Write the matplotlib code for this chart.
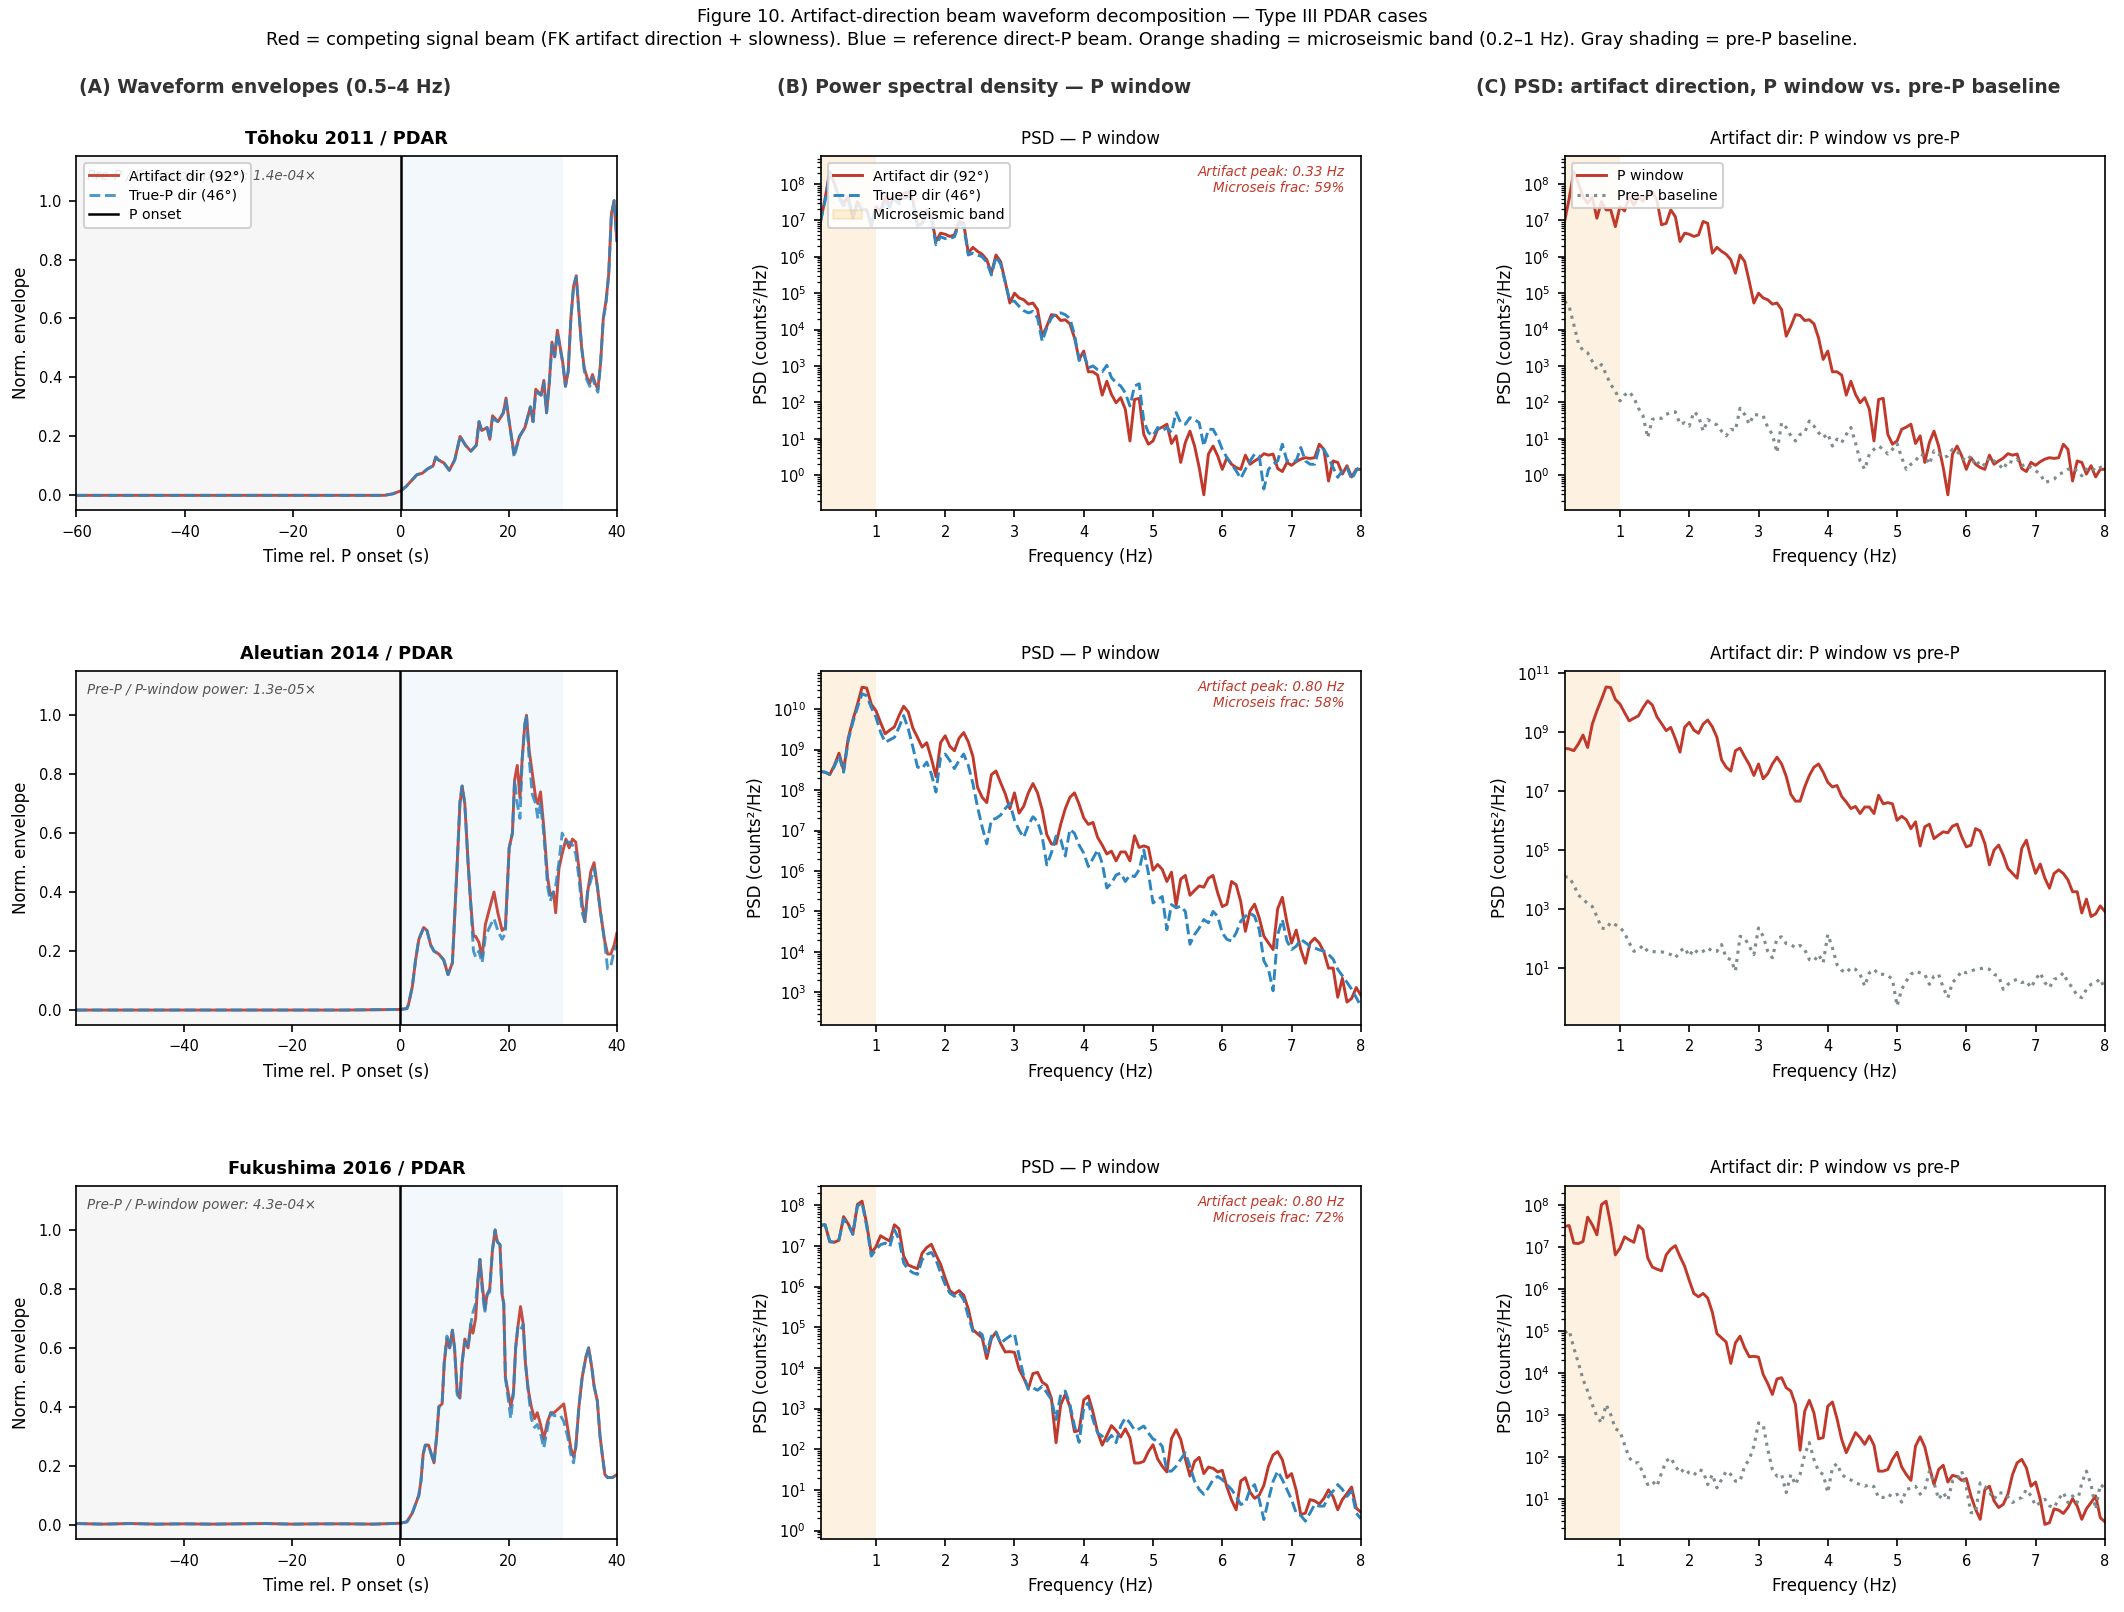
import numpy as np
import matplotlib
matplotlib.use("Agg")
import matplotlib.pyplot as plt
from matplotlib.patches import Patch

# ---------------- DATA ----------------
events = ["Tōhoku 2011 / PDAR", "Aleutian 2014 / PDAR", "Fukushima 2016 / PDAR"]
power_ratio_labels = ["1.4e-04", "1.3e-05", "4.3e-04"]
peak_labels = ["0.33", "0.80", "0.80"]
microseis_frac = ["59", "58", "72"]
artifact_az = 92
truep_az = 46

# Envelopes: time (s rel. P onset), artifact (red) and true-P (blue)
t_tohoku = [-60, -50, -40, -30, -20, -10, -3, -1.5, 0, 1, 2, 3, 4, 5, 6, 6.5, 7, 8,
            9, 10, 11, 12, 13, 14, 14.5, 15, 16, 16.5, 17, 18, 19, 19.5, 20,
            21, 22, 23, 24, 24.5, 25, 26, 26.5, 27, 27.5, 28, 28.5, 29, 30, 30.5,
            31, 31.5, 32, 32.5, 33, 33.5, 34, 34.5, 35, 35.5, 36, 36.5, 37, 37.5, 38,
            38.5, 39, 39.5, 40]
env_art_tohoku = [0, 0, 0, 0, 0, 0, 0, 0.005, 0.015, 0.03, 0.05, 0.07, 0.075,
                  0.09, 0.10, 0.13, 0.12, 0.11, 0.085, 0.12, 0.2, 0.17, 0.15,
                  0.17, 0.25, 0.22, 0.23, 0.19, 0.27, 0.25, 0.28, 0.33, 0.26,
                  0.14, 0.2, 0.23, 0.3, 0.25, 0.36, 0.34, 0.39, 0.28, 0.38,
                  0.52, 0.47, 0.56, 0.45, 0.37, 0.42, 0.6, 0.71, 0.745, 0.62,
                  0.5, 0.43, 0.4, 0.38, 0.41, 0.38, 0.36, 0.45, 0.6, 0.66,
                  0.75, 0.955, 1.0, 0.865]
env_tp_tohoku = [0, 0, 0, 0, 0, 0, 0, 0.005, 0.015, 0.03, 0.05, 0.07, 0.075,
                 0.09, 0.10, 0.13, 0.12, 0.11, 0.085, 0.12, 0.2, 0.17, 0.15,
                 0.17, 0.25, 0.22, 0.23, 0.19, 0.26, 0.25, 0.28, 0.32, 0.26,
                 0.13, 0.2, 0.23, 0.3, 0.25, 0.35, 0.34, 0.38, 0.28, 0.38,
                 0.51, 0.47, 0.55, 0.45, 0.37, 0.42, 0.6, 0.71, 0.74, 0.62,
                 0.5, 0.42, 0.39, 0.37, 0.4, 0.37, 0.35, 0.45, 0.6, 0.65,
                 0.75, 0.95, 1.0, 0.86]

t_aleutian = [-59.9, -50, -40, -30, -20, -10, 0, 1.2, 1.5, 2.2, 2.8, 3.4, 4.3, 4.9, 5.6,
              6.2, 7.1, 8.0, 8.8, 9.6, 9.9, 10.5, 11.0, 11.4, 11.9, 12.5, 13.0, 13.5,
              13.9, 14.5, 15.1, 15.7, 16.7, 17.3, 18.0, 18.8, 19.4, 20.1, 20.7, 21.1,
              21.6, 22.1, 22.5, 23.0, 23.3, 23.8, 24.4, 25.0, 25.4, 25.9, 26.5, 27.2,
              27.7, 28.3, 28.7, 29.3, 29.9, 30.6, 31.2, 31.8, 32.4, 33.0, 33.6, 34.1,
              34.6, 35.2, 35.8, 36.4, 37.0, 37.7, 38.3, 38.9, 39.5, 40.0]
env_art_aleutian = [0, 0, 0, 0, 0, 0, 0.002, 0.005, 0.02, 0.08, 0.17, 0.24,
                    0.28, 0.27, 0.22, 0.2, 0.19, 0.17, 0.12, 0.16, 0.27, 0.5,
                    0.7, 0.76, 0.7, 0.5, 0.36, 0.25, 0.25, 0.23, 0.18, 0.29,
                    0.36, 0.40, 0.33, 0.27, 0.28, 0.55, 0.6, 0.78, 0.83, 0.72,
                    0.85, 0.97, 1.0, 0.88, 0.8, 0.72, 0.7, 0.74, 0.62, 0.45,
                    0.39, 0.4, 0.33, 0.48, 0.53, 0.58, 0.55, 0.58, 0.57, 0.48,
                    0.36, 0.3, 0.4, 0.47, 0.5, 0.42, 0.33, 0.24, 0.19, 0.19,
                    0.22, 0.26]
env_tp_aleutian = [0, 0, 0, 0, 0, 0, 0.002, 0.005, 0.02, 0.08, 0.17, 0.24,
                   0.28, 0.27, 0.22, 0.2, 0.19, 0.17, 0.12, 0.16, 0.27, 0.5,
                   0.71, 0.76, 0.7, 0.5, 0.36, 0.2, 0.18, 0.2, 0.16, 0.25,
                   0.29, 0.31, 0.27, 0.24, 0.26, 0.55, 0.6, 0.78, 0.7, 0.65,
                   0.85, 0.97, 1.0, 0.85, 0.73, 0.70, 0.65, 0.7, 0.6, 0.42,
                   0.37, 0.4, 0.42, 0.5, 0.6, 0.57, 0.57, 0.56, 0.53, 0.45,
                   0.33, 0.3, 0.4, 0.44, 0.48, 0.42, 0.33, 0.24, 0.14, 0.15,
                   0.2, 0.22]

t_fukushima = [-59.9, -55, -50, -45, -40, -35, -30, -25, -20, -15, -10, -5, 0,
               1.2, 2.2, 2.8, 3.4, 3.8, 4.2, 4.6, 5.2, 5.7, 6.2, 6.7, 7.1, 7.7, 8.1,
               8.6, 9.1, 9.6, 10.0, 10.5, 11.0, 11.4, 11.9, 12.5, 13.0, 13.4, 13.9,
               14.3, 14.7, 15.1, 15.6, 16.0, 16.5, 17.0, 17.5, 17.9, 18.4, 18.8, 19.1,
               19.4, 19.9, 20.4, 20.9, 21.3, 21.7, 22.2, 22.7, 23.1, 23.6, 24.2, 24.8,
               25.3, 25.9, 26.5, 27.2, 27.8, 28.4, 29.0, 29.6, 30.2, 30.9, 31.5, 32.0,
               32.4, 33.0, 33.6, 34.3, 34.8, 35.4, 35.8, 36.4, 36.9, 37.3, 37.8, 38.3,
               39.2, 40.0]
env_art_fukushima = [0.004, 0.002, 0.004, 0.002, 0.003, 0.002, 0.003, 0.004, 0.002,
                     0.003, 0.003, 0.002, 0.005, 0.01, 0.04, 0.07, 0.1, 0.15,
                     0.24, 0.27, 0.27, 0.24, 0.21, 0.3, 0.4, 0.41, 0.55, 0.63,
                     0.6, 0.66, 0.6, 0.45, 0.43, 0.55, 0.63, 0.6, 0.68, 0.65,
                     0.7, 0.82, 0.9, 0.82, 0.73, 0.78, 0.8, 0.93, 1.0, 0.96,
                     0.95, 0.78, 0.75, 0.5, 0.45, 0.4, 0.45, 0.6, 0.67, 0.74,
                     0.68, 0.55, 0.46, 0.4, 0.36, 0.38, 0.34, 0.29, 0.35, 0.38,
                     0.38, 0.39, 0.4, 0.41, 0.33, 0.26, 0.23, 0.26, 0.4, 0.5,
                     0.57, 0.6, 0.53, 0.47, 0.42, 0.3, 0.24, 0.17, 0.16, 0.16, 0.17]
env_tp_fukushima = [0.004, 0.002, 0.004, 0.002, 0.003, 0.002, 0.003, 0.004, 0.002,
                    0.003, 0.003, 0.002, 0.005, 0.01, 0.04, 0.07, 0.1, 0.15,
                    0.24, 0.27, 0.27, 0.24, 0.21, 0.3, 0.4, 0.41, 0.55, 0.64,
                    0.6, 0.66, 0.6, 0.44, 0.43, 0.55, 0.62, 0.6, 0.68, 0.72,
                    0.75, 0.83, 0.9, 0.8, 0.72, 0.78, 0.79, 0.93, 1.0, 0.96,
                    0.95, 0.78, 0.75, 0.5, 0.43, 0.36, 0.45, 0.6, 0.67, 0.66,
                    0.68, 0.55, 0.46, 0.36, 0.33, 0.34, 0.31, 0.26, 0.33, 0.38,
                    0.37, 0.37, 0.37, 0.35, 0.3, 0.24, 0.21, 0.26, 0.4, 0.5,
                    0.57, 0.6, 0.53, 0.47, 0.42, 0.3, 0.24, 0.17, 0.16, 0.16, 0.17]

# PSD frequency grid (Hz): 0.2 .. 8.0 in steps of 1/15 Hz
freqs = np.arange(3, 121) / 15.0

# PSD values, log10(counts^2/Hz)
psd_art_tohoku_log10 = [
    6.97, 7.6, 8.34, 8.02, 7.65, 7.47, 7.65, 7.06, 7.52, 7.29,
    7.29, 6.83, 7.38, 7.26, 7.65, 7.42, 7.65, 7.52, 7.74, 7.79,
    7.56, 6.88, 6.92, 7.29, 7.1, 6.42, 6.65, 6.62, 6.56, 6.6,
    6.97, 6.92, 6.1, 6.26, 6.15, 6.07, 5.92, 5.55, 6.05, 5.87,
    5.32, 4.73, 5.0, 4.87, 4.82, 4.7, 4.73, 4.55, 3.82, 4.09,
    4.41, 4.39, 4.25, 4.27, 4.16, 3.77, 3.18, 3.41, 2.84, 2.84,
    2.75, 2.2, 2.58, 2.22, 1.99, 2.13, 1.81, 0.94, 2.08, 2.11,
    1.12, 0.85, 0.94, 1.26, 1.32, 1.4, 0.87, 1.08, 0.35, 0.9,
    1.21, 0.8, 0.21, -0.54, 0.58, 0.8, 0.53, 0.16, 0.48, 0.3,
    0.21, 0.16, 0.55, 0.3, 0.39, 0.47, 0.59, 0.55, 0.58, 0.18,
    0.1, 0.35, 0.27, 0.37, 0.44, 0.48, 0.46, 0.48, 0.85, 0.71,
    -0.16, 0.39, 0.35, 0.03, 0.26, -0.05, 0.16, 0.16]
psd_tp_tohoku_log10 = [
    6.97, 7.55, 8.3, 8.0, 7.6, 7.4, 7.55, 7.1, 7.45, 7.3,
    7.3, 6.9, 7.3, 7.2, 7.55, 7.35, 7.6, 7.45, 7.6, 7.65,
    7.5, 6.85, 6.9, 7.2, 7.05, 6.33, 6.55, 6.5, 6.5, 6.55,
    6.9, 6.85, 6.05, 6.1, 6.05, 6.0, 5.85, 5.5, 6.0, 5.8,
    5.3, 4.78, 4.78, 4.64, 4.52, 4.46, 4.5, 4.32, 3.68, 4.05,
    4.32, 4.43, 4.46, 4.41, 4.3, 3.86, 3.15, 3.32, 2.95, 3.0,
    2.9, 2.84, 3.02, 2.68, 2.54, 2.45, 2.26, 1.9, 2.45, 2.51,
    1.49, 1.17, 1.08, 1.31, 1.21, 1.31, 1.17, 1.72, 1.44, 1.4,
    1.58, 1.53, 1.44, 0.8, 1.26, 1.26, 1.03, 0.71, 0.48, 0.3,
    0.12, -0.09, 0.16, 0.39, 0.58, 0.53, -0.38, 0.16, 0.3, 0.39,
    0.85, 0.39, 0.39, 0.39, 0.76, 0.39, 0.3, 0.3, 0.76, 0.71,
    0.48, 0.21, -0.06, 0.12, 0.21, -0.11, 0.12, 0.3]
psd_pre_tohoku_log10 = [
    4.78, 4.64, 4.14, 3.63, 3.42, 3.36, 3.13, 2.9, 3.04, 2.77,
    2.49, 2.31, 2.04, 2.2, 2.29, 2.13, 1.84, 1.63, 1.03, 1.53,
    1.58, 1.56, 1.67, 1.72, 1.74, 1.4, 1.44, 1.35, 1.74, 1.63,
    1.21, 1.53, 1.44, 1.38, 1.21, 1.08, 1.26, 1.23, 1.84, 1.67,
    1.4, 1.67, 1.65, 1.63, 1.31, 1.12, 0.62, 1.44, 1.31, 1.08,
    0.94, 1.12, 1.17, 1.49, 1.35, 1.17, 1.03, 1.14, 0.8, 0.99,
    0.89, 1.12, 1.31, 0.89, 0.39, 0.16, 0.58, 0.71, 0.8, 0.71,
    0.58, 0.71, 0.87, 0.48, 0.16, 0.3, 0.39, 0.58, 0.53, 0.3,
    0.67, 0.58, 0.48, 0.53, 0.71, 0.67, 0.48, 0.39, 0.53, 0.26,
    0.39, 0.26, 0.48, 0.39, 0.3, 0.16, 0.39, 0.35, 0.44, 0.26,
    0.3, 0.21, 0.12, 0.03, -0.2, -0.16, -0.11, 0.03, 0.07, 0.16,
    0.21, 0.12, -0.02, 0.16, 0.21, 0.12, 0.21, 0.26]

psd_art_aleutian_log10 = [
    8.46, 8.44, 8.38, 8.61, 8.91, 8.49, 9.28, 9.73, 10.12, 10.54,
    10.52, 10.12, 9.96, 9.67, 9.39, 9.48, 9.56, 9.84, 10.07, 9.93,
    9.53, 9.3, 9.06, 9.17, 8.78, 8.33, 9.17, 9.34, 9.08, 8.97,
    9.28, 9.42, 9.19, 8.83, 8.07, 7.82, 7.69, 8.38, 8.47, 8.18,
    7.91, 7.54, 7.93, 7.43, 7.6, 7.93, 8.16, 7.93, 7.51, 6.9,
    6.67, 6.67, 7.15, 7.54, 7.82, 7.93, 7.65, 7.31, 7.15, 7.2,
    6.83, 6.64, 6.42, 6.49, 6.25, 6.47, 6.47, 6.25, 6.87, 6.58,
    6.62, 6.58, 6.02, 6.16, 6.04, 5.74, 5.97, 5.15, 5.8, 5.89,
    5.4, 5.52, 5.63, 5.6, 5.82, 5.89, 5.46, 5.12, 5.18, 5.74,
    5.66, 5.24, 4.51, 5.01, 5.18, 4.84, 4.39, 4.22, 4.06, 5.07,
    5.35, 4.73, 4.22, 4.54, 4.06, 3.72, 4.22, 4.34, 4.22, 4.0,
    3.6, 3.6, 2.88, 3.35, 2.76, 2.85, 3.12, 2.93]
psd_tp_aleutian_log10 = [
    8.46, 8.44, 8.39, 8.58, 8.85, 8.44, 9.22, 9.67, 10.04, 10.38,
    10.33, 10.04, 9.8, 9.43, 9.18, 9.24, 9.3, 9.55, 9.84, 9.51,
    9.06, 8.57, 8.53, 8.69, 8.4, 7.95, 8.81, 8.89, 8.73, 8.53,
    8.73, 8.89, 8.61, 8.16, 7.58, 7.09, 6.67, 7.26, 7.3, 7.38,
    7.54, 7.67, 7.26, 7.01, 6.83, 7.13, 7.34, 7.22, 6.85, 6.15,
    6.45, 6.86, 6.78, 6.37, 7.03, 6.93, 6.64, 6.44, 6.11, 6.31,
    6.52, 6.19, 5.58, 5.7, 5.9, 5.95, 5.74, 5.9, 5.86, 6.03,
    6.52, 5.95, 5.21, 5.29, 5.37, 4.55, 5.17, 5.09, 5.13, 5.0,
    4.19, 4.43, 4.59, 4.8, 4.72, 5.0, 4.88, 4.47, 4.31, 4.27,
    4.47, 4.76, 4.88, 4.96, 4.88, 4.55, 3.78, 3.57, 3.04, 4.43,
    4.8, 4.27, 4.06, 4.14, 4.31, 4.23, 4.14, 4.1, 4.05, 4.02,
    3.94, 3.82, 3.57, 3.41, 3.25, 3.08, 2.87, 2.67]
psd_pre_aleutian_log10 = [
    4.11, 4.09, 3.83, 3.49, 3.33, 3.21, 3.1, 2.76, 2.37, 2.34,
    2.56, 2.48, 2.4, 2.2, 1.87, 1.58, 1.64, 1.78, 1.58, 1.58,
    1.55, 1.56, 1.53, 1.47, 1.36, 1.58, 1.7, 1.42, 1.66, 1.51,
    1.58, 1.7, 1.58, 1.58, 1.81, 1.36, 1.3, 0.91, 2.09, 2.03,
    1.75, 1.47, 2.37, 2.09, 1.58, 1.36, 2.03, 2.07, 1.84, 1.81,
    1.7, 1.78, 1.64, 1.3, 1.25, 1.47, 1.19, 2.15, 1.7, 1.13,
    0.94, 0.85, 1.02, 0.97, 0.8, 0.4, 0.85, 0.97, 0.8, 0.8,
    0.76, 0.63, -0.27, 0.29, 0.57, 0.8, 0.91, 0.85, 0.8, 0.46,
    0.74, 0.8, 0.35, 0.01, 0.52, 0.69, 0.91, 0.85, 0.91, 0.97,
    0.99, 1.02, 0.97, 0.8, 0.74, 0.29, 0.46, 0.57, 0.63, 0.52,
    0.57, 0.35, 0.63, 0.85, 0.52, 0.35, 0.63, 0.69, 0.85, 0.52,
    0.35, 0.07, 0.01, 0.29, 0.46, 0.52, 0.65, 0.29]

psd_art_fukushima_log10 = [
    7.5, 7.52, 7.1, 7.09, 7.14, 7.72, 7.54, 7.3, 8.02, 8.1,
    7.54, 6.82, 6.98, 7.25, 7.18, 7.12, 7.52, 7.42, 6.75, 6.53,
    6.48, 6.44, 6.82, 6.96, 7.04, 6.78, 6.55, 6.21, 5.9, 5.82,
    5.9, 5.79, 5.45, 4.94, 4.84, 4.74, 4.23, 4.72, 4.88, 4.6,
    4.39, 4.4, 4.38, 3.97, 3.75, 3.49, 3.86, 3.89, 3.65, 3.57,
    3.25, 2.16, 3.09, 3.35, 3.05, 2.43, 2.46, 3.21, 3.31, 2.91,
    2.42, 2.1, 2.34, 2.58, 2.46, 2.3, 2.5, 2.28, 1.66, 1.66,
    1.7, 1.94, 2.11, 1.76, 1.58, 1.44, 2.26, 2.48, 2.24, 1.76,
    1.34, 1.7, 1.8, 1.4, 1.56, 1.53, 1.44, 1.48, 1.07, 0.75,
    0.51, 1.22, 1.3, 0.95, 0.79, 0.87, 1.11, 1.58, 1.86, 1.94,
    1.74, 1.3, 1.4, 0.99, 0.39, 0.43, 0.76, 0.73, 0.65, 0.79,
    1.0, 0.83, 0.51, 0.76, 0.91, 1.07, 0.55, 0.45]
psd_tp_fukushima_log10 = [
    7.52, 7.52, 7.11, 7.09, 7.16, 7.66, 7.52, 7.28, 7.98, 8.06,
    7.48, 6.75, 6.91, 7.03, 7.07, 6.98, 7.4, 7.16, 6.58, 6.42,
    6.34, 6.3, 6.66, 6.79, 6.84, 6.66, 6.34, 6.05, 5.84, 5.76,
    5.84, 5.68, 5.27, 4.9, 4.9, 4.82, 4.37, 4.78, 4.88, 4.6,
    4.7, 4.78, 4.84, 4.29, 3.8, 3.47, 3.51, 3.45, 3.55, 3.39,
    3.22, 2.73, 3.34, 3.43, 3.1, 2.57, 2.17, 3.02, 3.14, 2.73,
    2.4, 2.32, 2.2, 2.34, 2.16, 2.57, 2.77, 2.65, 2.47, 2.5,
    2.57, 2.4, 2.25, 2.2, 2.07, 1.46, 1.46, 1.58, 1.75, 1.91,
    1.58, 1.21, 1.01, 0.89, 1.05, 1.25, 1.33, 1.25, 1.13, 1.01,
    0.84, 0.64, 0.68, 1.01, 1.13, 0.76, 0.27, 0.76, 1.21, 1.46,
    1.25, 1.01, 0.76, 0.43, 0.37, 0.23, 0.43, 0.64, 0.6, 0.6,
    0.84, 0.97, 1.13, 1.01, 0.84, 0.97, 0.43, 0.29]
psd_pre_fukushima_log10 = [
    4.96, 5.02, 4.6, 4.24, 3.85, 3.57, 3.25, 2.97, 2.81, 3.25,
    3.01, 2.67, 2.61, 2.29, 1.98, 1.86, 1.86, 1.61, 1.34, 1.42,
    1.3, 1.62, 1.9, 1.98, 1.78, 1.62, 1.72, 1.61, 1.56, 1.7,
    1.66, 1.34, 1.58, 1.26, 1.46, 1.66, 1.58, 1.42, 1.42, 1.78,
    1.94, 2.26, 2.81, 2.77, 2.18, 1.7, 1.54, 1.58, 1.15, 1.58,
    1.34, 1.58, 2.06, 2.34, 1.94, 1.66, 1.58, 1.15, 1.74, 1.84,
    1.58, 1.5, 1.45, 1.38, 1.34, 1.3, 1.34, 1.29, 1.03, 1.03,
    1.11, 1.05, 1.11, 0.92, 1.22, 1.26, 1.3, 1.11, 1.22, 1.66,
    1.38, 0.99, 1.15, 0.97, 1.42, 1.46, 1.66, 1.26, 0.67, 0.67,
    1.38, 1.3, 1.15, 0.99, 1.15, 1.13, 1.05, 0.91, 0.99, 1.03,
    1.22, 1.07, 0.83, 0.91, 0.99, 0.83, 0.79, 0.99, 1.15, 0.91,
    1.07, 0.91, 1.38, 1.66, 1.34, 0.75, 1.34, 1.26]

# ---------------- STYLE ----------------
RED = "#c0392b"
BLUE = "#2e86c1"
GRAY = "#7f8c8d"
ORANGE = "#f39c12"

env_t = [t_tohoku, t_aleutian, t_fukushima]
env_art = [env_art_tohoku, env_art_aleutian, env_art_fukushima]
env_tp = [env_tp_tohoku, env_tp_aleutian, env_tp_fukushima]
psd_art = [psd_art_tohoku_log10, psd_art_aleutian_log10, psd_art_fukushima_log10]
psd_tp = [psd_tp_tohoku_log10, psd_tp_aleutian_log10, psd_tp_fukushima_log10]
psd_pre = [psd_pre_tohoku_log10, psd_pre_aleutian_log10, psd_pre_fukushima_log10]
env_xlim = [(-60, 40), (-59.9, 40), (-59.9, 40)]
psdB_ylim = [(-0.96, 8.76), (2.2, 10.94), (-0.22, 8.48)]
psdC_ylim = [(-0.96, 8.76), (-0.91, 11.08), (0.03, 8.47)]

LEG = dict(fontsize=6.8, framealpha=0.85, labelspacing=0.4)

plt.rcParams["font.family"] = ["DejaVu Sans"]
fig, axes = plt.subplots(3, 3, figsize=(2124 / 150, 1612 / 150), dpi=150)
fig.subplots_adjust(left=0.036, right=0.991, bottom=0.045, top=0.903,
                    wspace=0.377, hspace=0.455)

fig.suptitle("Figure 10. Artifact-direction beam waveform decomposition — Type III PDAR cases\n"
             "Red = competing signal beam (FK artifact direction + slowness). Blue = reference "
             "direct-P beam. Orange shading = microseismic band (0.2–1 Hz). Gray shading = pre-P baseline.",
             fontsize=8.5, y=0.995, va="top", linespacing=1.35)

headers = ["(A) Waveform envelopes (0.5–4 Hz)", "(B) Power spectral density — P window",
           "(C) PSD: artifact direction, P window vs. pre-P baseline"]
for x, h in zip([0.037, 0.366, 0.695], headers):
    fig.text(x, 0.946, h, fontsize=9, fontweight="bold", color="#333333",
             ha="left", va="center")

for r in range(3):
    # ---- Panel A: envelopes
    ax = axes[r, 0]
    ax.axvspan(-60, 0, color="gray", alpha=0.07, lw=0)
    ax.axvspan(0, 30, color="#3498db", alpha=0.06, lw=0)
    ax.plot(env_t[r], env_art[r], color=RED, lw=1.4, alpha=0.9,
            label=f"Artifact dir ({artifact_az}°)")
    ax.plot(env_t[r], env_tp[r], color=BLUE, lw=1.4, ls="--", alpha=0.85,
            label=f"True-P dir ({truep_az}°)")
    ax.axvline(0, color="black", lw=1.2, label="P onset")
    ax.set_xlim(*env_xlim[r])
    ax.set_ylim(-0.05, 1.15)
    ax.set_xlabel("Time rel. P onset (s)", fontsize=8)
    ax.set_ylabel("Norm. envelope", fontsize=8)
    ax.set_title(events[r], fontsize=8.5, fontweight="bold")
    ax.text(0.02, 0.965, f"Pre-P / P-window power: {power_ratio_labels[r]}×",
            transform=ax.transAxes, fontsize=6.5, style="italic", color="#555555",
            ha="left", va="top")
    if r == 0:
        ax.legend(loc="upper left", **LEG)
    ax.tick_params(labelsize=7)

    # ---- Panel B: PSD P window
    ax = axes[r, 1]
    ax.axvspan(0.2, 1.0, color=ORANGE, alpha=0.12, lw=0)
    ax.semilogy(freqs, 10 ** np.array(psd_art[r]), color=RED, lw=1.4,
                label=f"Artifact dir ({artifact_az}°)")
    ax.semilogy(freqs, 10 ** np.array(psd_tp[r]), color=BLUE, lw=1.4, ls="--",
                label=f"True-P dir ({truep_az}°)")
    ax.set_xlim(0.2, 8)
    ax.set_ylim(10 ** psdB_ylim[r][0], 10 ** psdB_ylim[r][1])
    ax.set_xticks(range(1, 9))
    ax.set_xlabel("Frequency (Hz)", fontsize=8)
    ax.set_ylabel("PSD (counts²/Hz)", fontsize=8)
    ax.set_title("PSD — P window", fontsize=8)
    ax.text(0.97, 0.975, f"Artifact peak: {peak_labels[r]} Hz\nMicroseis frac: {microseis_frac[r]}%",
            transform=ax.transAxes, fontsize=6.5, style="italic", color=RED,
            ha="right", va="top")
    if r == 0:
        handles, labels = ax.get_legend_handles_labels()
        handles.append(Patch(facecolor=ORANGE, alpha=0.15, edgecolor=ORANGE))
        labels.append("Microseismic band")
        ax.legend(handles, labels, loc="upper left", **LEG)
    ax.tick_params(labelsize=7)

    # ---- Panel C: P window vs pre-P
    ax = axes[r, 2]
    ax.axvspan(0.2, 1.0, color=ORANGE, alpha=0.12, lw=0)
    ax.semilogy(freqs, 10 ** np.array(psd_art[r]), color=RED, lw=1.4, label="P window")
    ax.semilogy(freqs, 10 ** np.array(psd_pre[r]), color=GRAY, lw=1.5, ls=":",
                label="Pre-P baseline")
    ax.set_xlim(0.2, 8)
    ax.set_ylim(10 ** psdC_ylim[r][0], 10 ** psdC_ylim[r][1])
    ax.set_xticks(range(1, 9))
    ax.set_xlabel("Frequency (Hz)", fontsize=8)
    ax.set_ylabel("PSD (counts²/Hz)", fontsize=8)
    ax.set_title("Artifact dir: P window vs pre-P", fontsize=8)
    if r == 0:
        ax.legend(loc="upper left", **LEG)
    ax.tick_params(labelsize=7)

fig.savefig("out.png", dpi=150)
